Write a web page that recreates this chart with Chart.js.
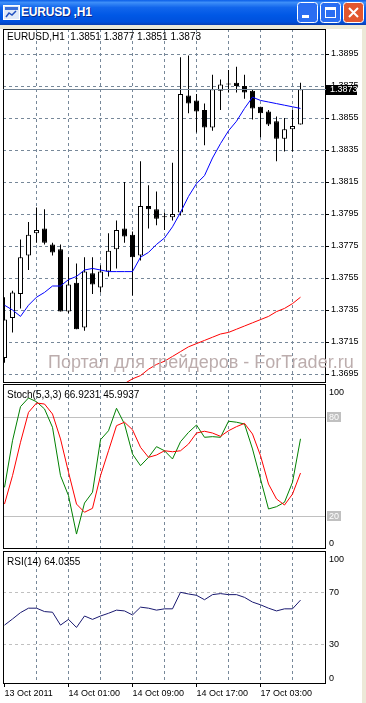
<!DOCTYPE html>
<html lang="ru">
<head>
<meta charset="UTF-8">
<title>EURUSD,H1</title>
<script src="https://cdn.jsdelivr.net/npm/chart.js@4.4.0/dist/chart.umd.min.js"></script>
<style>
  body { margin: 0; width: 366px; height: 703px; overflow: hidden; position: relative; background: #ffffff; font-family: "Liberation Sans", Arial, sans-serif; }
  .titlebar { position: absolute; left: 0; top: 0; width: 366px; height: 25px;
    background: linear-gradient(to bottom, #0a5ee8 0%, #3d8ef8 10%, #1266ec 30%, #0058e6 60%, #0050dc 88%, #0a3fb0 100%); }
  .caption { position: absolute; left: 21px; top: 5px; color: #fff; font: bold 12px "Liberation Sans", Arial, sans-serif; letter-spacing: -0.2px; text-shadow: 1px 1px 0 #0a2a8a; }
  .icon { position: absolute; left: 3px; top: 5px; }
  .btn { position: absolute; top: 2px; }
  .frame { position: absolute; left: 0; top: 25px; width: 366px; height: 4px; background: #ece9d8; }
  .side-r { position: absolute; left: 362px; top: 25px; width: 4px; height: 678px; background: #ece9d8; }
  .title { position: absolute; left: 7px; font-size: 10px; color: #000; white-space: pre; }
  .watermark { position: absolute; left: 48px; top: 352px; font-size: 18px; color: #bcadad; white-space: nowrap; }
  canvas { position: absolute; left: 0; }
</style>
</head>
<body>
<div class="titlebar">
  <svg class="icon" width="17" height="15" viewBox="0 0 17 15">
    <rect x="0.5" y="0.5" width="16" height="14" fill="#dfe9f8" stroke="#ffffff"/>
    <rect x="2" y="2" width="13" height="3" fill="#3a6fd8"/>
    <path d="M3 12 L6 8 L9 10 L13 6" stroke="#2050c0" stroke-width="1.5" fill="none"/>
  </svg>
  <span class="caption">EURUSD ,H1</span>
  <svg class="btn" style="left:297px" width="21" height="21" viewBox="0 0 21 21">
    <rect x="0.5" y="0.5" width="20" height="20" rx="3" fill="#2a6ef2" stroke="#ffffff"/>
    <rect x="5" y="13" width="7" height="3" fill="#ffffff"/>
  </svg>
  <svg class="btn" style="left:320px" width="21" height="21" viewBox="0 0 21 21">
    <rect x="0.5" y="0.5" width="20" height="20" rx="3" fill="#2a6ef2" stroke="#ffffff"/>
    <rect x="5.5" y="5.5" width="10" height="10" fill="none" stroke="#ffffff"/>
    <rect x="5" y="5" width="11" height="3" fill="#ffffff"/>
  </svg>
  <svg class="btn" style="left:343px" width="21" height="21" viewBox="0 0 21 21">
    <rect x="0.5" y="0.5" width="20" height="20" rx="3" fill="#e2572f" stroke="#ffffff"/>
    <path d="M6 6 L15 15 M15 6 L6 15" stroke="#ffffff" stroke-width="2"/>
  </svg>
</div>
<div class="frame"></div>
<div class="side-r"></div>

<canvas id="mainChart" width="362" height="354" style="top:29px"></canvas>
<canvas id="stochChart" width="362" height="165" style="top:384px"></canvas>
<canvas id="rsiChart" width="362" height="152" style="top:551px"></canvas>

<div class="title" style="top:31px">EURUSD,H1  1.3851 1.3877 1.3851 1.3873</div>
<div class="title" style="top:389px">Stoch(5,3,3) 66.9231 45.9937</div>
<div class="title" style="top:556px">RSI(14) 64.0355</div>
<div class="watermark">Портал для трейдеров - ForTrader.ru</div>

<script>
// hourly bars, 13 Oct 2011 .. 17 Oct 2011
const opens  = [1.3705, 1.3730, 1.3745, 1.3769, 1.3783, 1.3786, 1.3776, 1.3773, 1.3734, 1.3752,
                1.3724, 1.3758, 1.3749, 1.3759, 1.3773, 1.3786, 1.3782, 1.3769, 1.3800, 1.3798,
                1.3793, 1.3793, 1.3796, 1.3869, 1.3866, 1.3860, 1.3849, 1.3872, 1.3876, 1.3877,
                1.3875, 1.3872, 1.3862, 1.3859, 1.3853, 1.3842, 1.3848, 1.3851];
const highs  = [1.3743, 1.3747, 1.3779, 1.3790, 1.3799, 1.3798, 1.3777, 1.3776, 1.3768, 1.3764,
                1.3768, 1.3768, 1.3763, 1.3783, 1.3791, 1.3815, 1.3784, 1.3828, 1.3813, 1.3809,
                1.3796, 1.3827, 1.3893, 1.3894, 1.3870, 1.3864, 1.3882, 1.3879, 1.3885, 1.3887,
                1.3882, 1.3873, 1.3862, 1.3860, 1.3856, 1.3855, 1.3860, 1.3877];
const lows   = [1.3702, 1.3721, 1.3736, 1.3760, 1.3777, 1.3776, 1.3769, 1.3734, 1.3733, 1.3723,
                1.3722, 1.3745, 1.3746, 1.3756, 1.3761, 1.3777, 1.3744, 1.3766, 1.3786, 1.3788,
                1.3785, 1.3791, 1.3794, 1.3858, 1.3846, 1.3838, 1.3847, 1.3860, 1.3871, 1.3871,
                1.3867, 1.3854, 1.3843, 1.3850, 1.3828, 1.3834, 1.3834, 1.3851];
const closes = [1.3729, 1.3746, 1.3768, 1.3782, 1.3785, 1.3777, 1.3771, 1.3734, 1.3751, 1.3723,
                1.3759, 1.3751, 1.3759, 1.3772, 1.3785, 1.3781, 1.3768, 1.3800, 1.3798, 1.3792,
                1.3793, 1.3795, 1.3870, 1.3864, 1.3859, 1.3849, 1.3873, 1.3876, 1.3876, 1.3875,
                1.3871, 1.3861, 1.3858, 1.3851, 1.3842, 1.3848, 1.3850, 1.3873];

// moving averages (blue = fast, red = slow)
const maFast = [1.3738, 1.3735, 1.3731, 1.3738, 1.3743, 1.3746, 1.3750, 1.3750, 1.3754, 1.3756,
                1.3760, 1.3761, 1.3760, 1.3759, 1.3759, 1.3759, 1.3759, 1.3768, 1.3771, 1.3776,
                1.3780, 1.3787, 1.3796, 1.3806, 1.3814, 1.3819, 1.3830, 1.3839, 1.3847, 1.3853,
                1.3861, 1.3868, 1.3866, 1.3865, 1.3864, 1.3863, 1.3862, 1.3861];
const maSlow = [null, null, null, null, null, null, null, null, null, null,
                null, null, null, null, null, 1.3689, 1.3692, 1.3694, 1.3698, 1.3701,
                1.3703, 1.3706, 1.3709, 1.3712, 1.3714, 1.3716, 1.3718, 1.3720, 1.3721, 1.3723,
                1.3725, 1.3727, 1.3729, 1.3731, 1.3734, 1.3736, 1.3739, 1.3743];

// Stochastic (5,3,3)
const stochMain = [37.3, 65.7, 86.5, 91.8, 89.5, 85.1, 73.9, 44.4, 32.2, 8.8,
                   27.7, 34.3, 66.3, 71.8, 85.5, 75.9, 57.6, 50.5, 55.6, 62.1,
                   59.6, 54.6, 65.1, 70.8, 75.3, 67.8, 68.2, 67.8, 77.6, 77.0,
                   75.9, 60.7, 42.4, 24.1, 25.5, 28.2, 40.4, 66.9];
const stochSignal = [27.1, 44.4, 64.8, 83.0, 88.7, 88.1, 82.0, 66.8, 46.5, 27.1,
                     22.1, 24.5, 44.4, 59.6, 74.9, 77.0, 72.4, 61.7, 55.6, 57.0,
                     59.6, 59.0, 59.6, 63.7, 70.4, 71.5, 70.4, 68.4, 71.8, 74.3,
                     76.3, 69.8, 56.6, 39.3, 30.2, 26.5, 33.2, 46.0];

// RSI(14)
const rsiValues = [44.8, 49.5, 54.4, 57.8, 57.8, 55.2, 54.7, 44.8, 49.2, 43.0,
                   51.8, 49.2, 51.8, 53.9, 56.3, 55.7, 52.6, 58.6, 57.8, 56.3,
                   57.3, 57.3, 70.0, 68.7, 67.7, 64.3, 68.2, 69.0, 68.2, 68.2,
                   66.1, 62.5, 60.4, 57.8, 55.7, 57.3, 57.3, 64.0];

const bidPrice = 1.3873;
const priceTicks = [1.3695, 1.3715, 1.3735, 1.3755, 1.3775, 1.3795, 1.3815, 1.3835, 1.3855, 1.3875, 1.3895];
const gridBars = [4, 8, 12, 16, 20, 24, 28, 32, 36];
const timeBars = [0, 8, 16, 24, 32];
const timeLabels = ["13 Oct 2011", "14 Oct 01:00", "14 Oct 09:00", "14 Oct 17:00", "17 Oct 03:00"];

const FONT = '"Liberation Sans", Arial, sans-serif';
const GRID = "#778899";
const X_MIN = -0.1875, X_MAX = 40.1875;

Chart.defaults.font.family = FONT;
Chart.defaults.font.size = 9;
Chart.defaults.color = "#000";
Chart.defaults.animation = false;
Chart.defaults.plugins.legend.display = false;
Chart.defaults.plugins.tooltip.enabled = false;

const idx = opens.map((_, i) => i);
const toXY = (arr) => idx.map((i) => ({ x: i, y: arr[i] }));

// frame around each pane, level lines and level labels
const paneFrame = {
  id: "paneFrame",
  beforeDatasetsDraw(chart, args, opts) {
    const { ctx, chartArea: a, scales } = chart;
    (opts.levels || []).forEach((l) => {
      const py = Math.round(scales.y.getPixelForValue(l.value)) + 0.5;
      ctx.save();
      ctx.strokeStyle = l.color;
      ctx.lineWidth = 1;
      ctx.setLineDash(l.dash || []);
      ctx.beginPath();
      ctx.moveTo(a.left, py);
      ctx.lineTo(a.right, py);
      ctx.stroke();
      ctx.restore();
    });
  },
  afterDraw(chart, args, opts) {
    const { ctx, chartArea: a, scales } = chart;
    ctx.save();
    ctx.setLineDash([]);
    ctx.strokeStyle = "#000";
    ctx.lineWidth = 1;
    ctx.strokeRect(a.left + 0.5, a.top + 0.5, a.right - a.left - 1, a.bottom - a.top - 1);
    ctx.font = "9px " + FONT;
    ctx.textBaseline = "middle";
    (opts.labels || []).forEach((l) => {
      let py = scales.y.getPixelForValue(l.value);
      py = Math.round(Math.min(Math.max(py, a.top + 8), a.bottom - 6));
      const tx = a.right + 2;
      if (l.box) {
        const w = ctx.measureText(l.text).width + 4;
        ctx.fillStyle = l.box;
        ctx.fillRect(tx - 1, py - 5, w, 10);
      }
      ctx.fillStyle = l.color || "#000";
      ctx.fillText(l.text, tx + 1, py + 0.5);
    });
    if (opts.bid) {
      const py = Math.round(scales.y.getPixelForValue(opts.bid)) + 0.5;
      ctx.strokeStyle = GRID;
      ctx.beginPath();
      ctx.moveTo(a.left, py);
      ctx.lineTo(a.right, py);
      ctx.stroke();
      ctx.fillStyle = "#000";
      ctx.fillRect(a.right, py - 4.5, 31, 10);
      ctx.fillStyle = "#fff";
      ctx.fillText(opts.bid.toFixed(4), a.right + 4, py + 0.5);
    }
    ctx.restore();
  }
};

function gridX(extra) {
  return Object.assign({
    type: "linear", min: X_MIN, max: X_MAX, offset: false,
    afterBuildTicks: (s) => { s.ticks = gridBars.map((v) => ({ value: v })); },
    afterFit: (s) => { s.height = 0; s.paddingLeft = 0; s.paddingRight = 0; },
    ticks: { display: false },
    grid: { color: GRID, drawTicks: false, offset: false },
    border: { display: false, dash: [3, 3] }
  }, extra || {});
}

function plainY(min, max) {
  return {
    position: "right", min: min, max: max,
    ticks: { display: false },
    grid: { display: false },
    border: { display: false },
    afterFit: (s) => { s.width = 36; s.paddingTop = 0; s.paddingBottom = 0; }
  };
}

const layout = { padding: { left: 3, right: 0, top: 0, bottom: 0 } };

new Chart(document.getElementById("mainChart"), {
  type: "bar",
  data: {
    datasets: [
      {
        type: "bar", order: 4,
        data: idx.map((i) => ({ x: i, y: [lows[i], highs[i]] })),
        backgroundColor: "#000", borderWidth: 0,
        barThickness: 1, grouped: false, inflateAmount: 0
      },
      {
        type: "bar", order: 3,
        data: idx.map((i) => ({ x: i, y: [opens[i], closes[i]] })),
        backgroundColor: idx.map((i) => (closes[i] > opens[i] ? "#fff" : "#000")),
        borderColor: "#000", borderWidth: 1, borderSkipped: false,
        barThickness: 5, minBarLength: 1, grouped: false, inflateAmount: 0
      },
      {
        type: "line", order: 2, data: toXY(maSlow),
        borderColor: "#ff0000", borderWidth: 1, pointRadius: 0, tension: 0
      },
      {
        type: "line", order: 1, data: toXY(maFast),
        borderColor: "#0000ff", borderWidth: 1, pointRadius: 0, tension: 0
      }
    ]
  },
  options: {
    responsive: false, events: [], layout: layout,
    scales: {
      x: gridX(),
      y: {
        position: "right", min: 1.368938, max: 1.391063,
        afterBuildTicks: (s) => { s.ticks = priceTicks.map((v) => ({ value: v })); },
        afterFit: (s) => { s.width = 36; s.paddingTop = 0; s.paddingBottom = 0; },
        ticks: { padding: 2, callback: (v) => Number(v).toFixed(4) },
        grid: { color: GRID, tickLength: 3, tickColor: "#000", tickBorderDash: [] },
        border: { display: false, dash: [3, 3] }
      }
    },
    plugins: { paneFrame: { bid: bidPrice } }
  },
  plugins: [paneFrame]
});

new Chart(document.getElementById("stochChart"), {
  type: "line",
  data: {
    datasets: [
      { data: toXY(stochSignal), borderColor: "#ff0000", borderWidth: 1, pointRadius: 0, tension: 0 },
      { data: toXY(stochMain), borderColor: "#008000", borderWidth: 1, pointRadius: 0, tension: 0 }
    ]
  },
  options: {
    responsive: false, events: [], layout: layout,
    scales: { x: gridX(), y: plainY(-0.3, 100.3) },
    plugins: {
      paneFrame: {
        levels: [{ value: 80, color: "#c0c0c0" }, { value: 20, color: "#c0c0c0" }],
        labels: [
          { value: 100, text: "100" },
          { value: 80, text: "80", box: "#c0c0c0", color: "#fff" },
          { value: 20, text: "20", box: "#c0c0c0", color: "#fff" },
          { value: 0, text: "0" }
        ]
      }
    }
  },
  plugins: [paneFrame]
});

new Chart(document.getElementById("rsiChart"), {
  type: "line",
  data: {
    datasets: [
      { data: toXY(rsiValues), borderColor: "#191970", borderWidth: 1, pointRadius: 0, tension: 0 }
    ]
  },
  options: {
    responsive: false, events: [], layout: layout,
    scales: {
      x: gridX(),
      xt: {
        type: "linear", position: "bottom", min: X_MIN, max: X_MAX, offset: false,
        afterBuildTicks: (s) => { s.ticks = timeBars.map((v) => ({ value: v })); },
        afterFit: (s) => { s.height = 19; s.paddingLeft = 0; s.paddingRight = 0; },
        ticks: {
          align: "start", padding: 1, maxRotation: 0, autoSkip: false,
          callback: (v) => timeLabels[timeBars.indexOf(v)]
        },
        grid: { drawOnChartArea: false, tickLength: 3, tickColor: "#000" },
        border: { display: false }
      },
      y: plainY(-0.4, 101.7)
    },
    plugins: {
      paneFrame: {
        levels: [{ value: 70, color: "#c0c0c0", dash: [3, 3] }, { value: 30, color: "#c0c0c0", dash: [3, 3] }],
        labels: [
          { value: 100, text: "100" },
          { value: 70, text: "70" },
          { value: 30, text: "30" },
          { value: 0, text: "0" }
        ]
      }
    }
  },
  plugins: [paneFrame]
});
</script>
</body>
</html>
